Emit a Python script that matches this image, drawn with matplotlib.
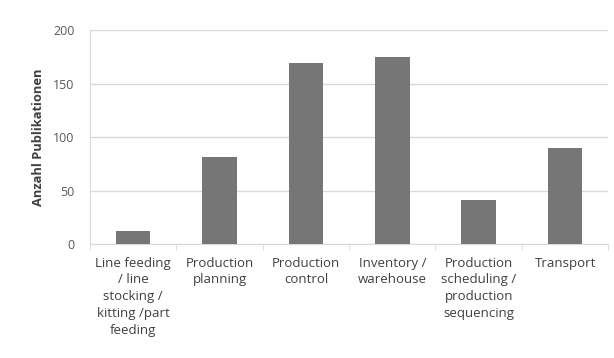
import matplotlib
matplotlib.use("Agg")
import matplotlib.pyplot as plt
import numpy as np

categories = ["Line feeding\n/ line\nstocking /\nkitting /part\nfeeding",
              "Production\nplanning", "Production\ncontrol", "Inventory /\nwarehouse",
              "Production\nscheduling /\nproduction\nsequencing", "Transport"]
values = [12, 81, 169, 175, 41, 90]
yticks = [0, 50, 100, 150, 200]

plt.rcParams['font.family'] = ['Open Sans', 'DejaVu Sans']
fig = plt.figure(figsize=(6.14, 3.58), dpi=100)
ax = fig.add_axes([0.1466, 0.318, 0.844, 0.598])
x = np.arange(len(categories))
ax.bar(x, values, width=0.4, color="#767676", zorder=3)
ax.set_xlim(-0.5, len(categories) - 0.5)
ax.set_ylim(0, 200)
ax.set_yticks(yticks)
ax.yaxis.grid(True, color="#d9d9d9", linewidth=1, zorder=0)
ax.tick_params(axis='y', length=0, labelsize=9, labelcolor="#595959", pad=11)
ax.set_xticks(x)
ax.set_xticklabels(categories, fontsize=9.5, color="#404040", linespacing=1.38)
ax.tick_params(axis='x', length=0, pad=9)
ax.set_xticks(np.arange(-0.5, len(categories)), minor=True)
ax.tick_params(axis='x', which='minor', length=4, color="#d9d9d9")
for s in ["top", "right"]:
    ax.spines[s].set_visible(False)
ax.spines["left"].set_color("#d9d9d9")
ax.spines["bottom"].set_color("#d9d9d9")
ax.set_ylabel("Anzahl Publikationen", fontsize=9.3, fontweight="bold", color="#404040", labelpad=6)
fig.savefig("out.png", dpi=100)
